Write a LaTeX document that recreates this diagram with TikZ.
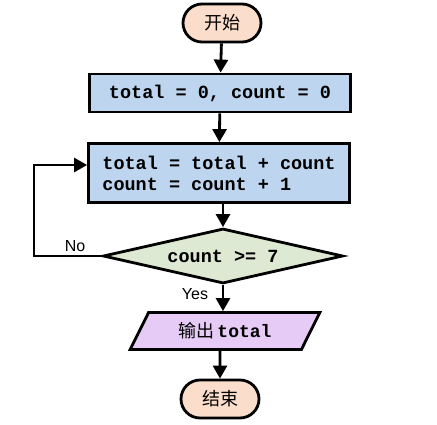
\documentclass[tikz,border=0pt]{standalone}
\usepackage{fontspec}
\setmonofont{Liberation Mono}
\setsansfont{Liberation Sans}
\newfontfamily\cjk{Noto Sans CJK SC}
\usetikzlibrary{shapes.geometric,shapes.misc,arrows.meta}
\definecolor{termfill}{HTML}{FBDDCB}
\definecolor{procfill}{HTML}{BDD5EE}
\definecolor{decfill}{HTML}{DDE9D3}
\definecolor{iofill}{HTML}{E5CBF5}
\begin{document}
\begin{tikzpicture}[x=1pt,y=-1pt,
  every node/.style={line width=2.8pt,draw=black,inner sep=0pt},
  term/.style={rounded rectangle,fill=termfill,minimum width=78pt,minimum height=38pt,font=\cjk\fontsize{18}{20}\selectfont},
  proc/.style={rectangle,fill=procfill,minimum width=261pt,font=\ttfamily\bfseries\fontsize{18.5}{21}\selectfont,align=left},
  dec/.style={diamond,fill=decfill,minimum width=240pt,minimum height=55pt,aspect=4.4,font=\ttfamily\bfseries\fontsize{18.5}{21}\selectfont},
  io/.style={trapezium,trapezium left angle=56,trapezium right angle=124,trapezium stretches=true,fill=iofill,minimum width=190pt,minimum height=37pt,font=\fontsize{18}{20}\selectfont},
  conn/.style={line width=2.8pt,-{Triangle[length=13pt,width=14pt]}},
  lbl/.style={draw=none,font=\sffamily\fontsize{16}{18}\selectfont}]
\useasboundingbox (0,0) rectangle (437,424);
\node[term] (start) at (222,23) {开始};
\node[proc,minimum height=38pt] (init) at (220,93) {total = 0, count = 0};
\node[proc,minimum height=59pt] (body) at (219,173) {total = total + count\\count = count + 1};
\node[dec] (cond) at (223,256) {count >= 7};
\node[io] (out) at (225,331) {{\cjk 输出}\,{\ttfamily\bfseries total}};
\node[term] (stop) at (220,399) {结束};
\coordinate (lc1) at (34,256);
\coordinate (lc2) at (34,165);
\draw[conn] (start) -- (init);
\draw[conn] (init) -- (body);
\draw[conn] (body.south -| cond.north) -- (cond);
\draw[conn] (cond.west) -- (lc1) -- (lc2) -- (lc2 -| body.west);
\draw[conn] (cond) -- (out.north -| cond.south);
\draw[conn] (out.south -| stop.north) -- (stop);
\node[lbl] (no) at (75,246) {No};
\node[lbl] (yes) at (195,294) {Yes};
\end{tikzpicture}
\end{document}
